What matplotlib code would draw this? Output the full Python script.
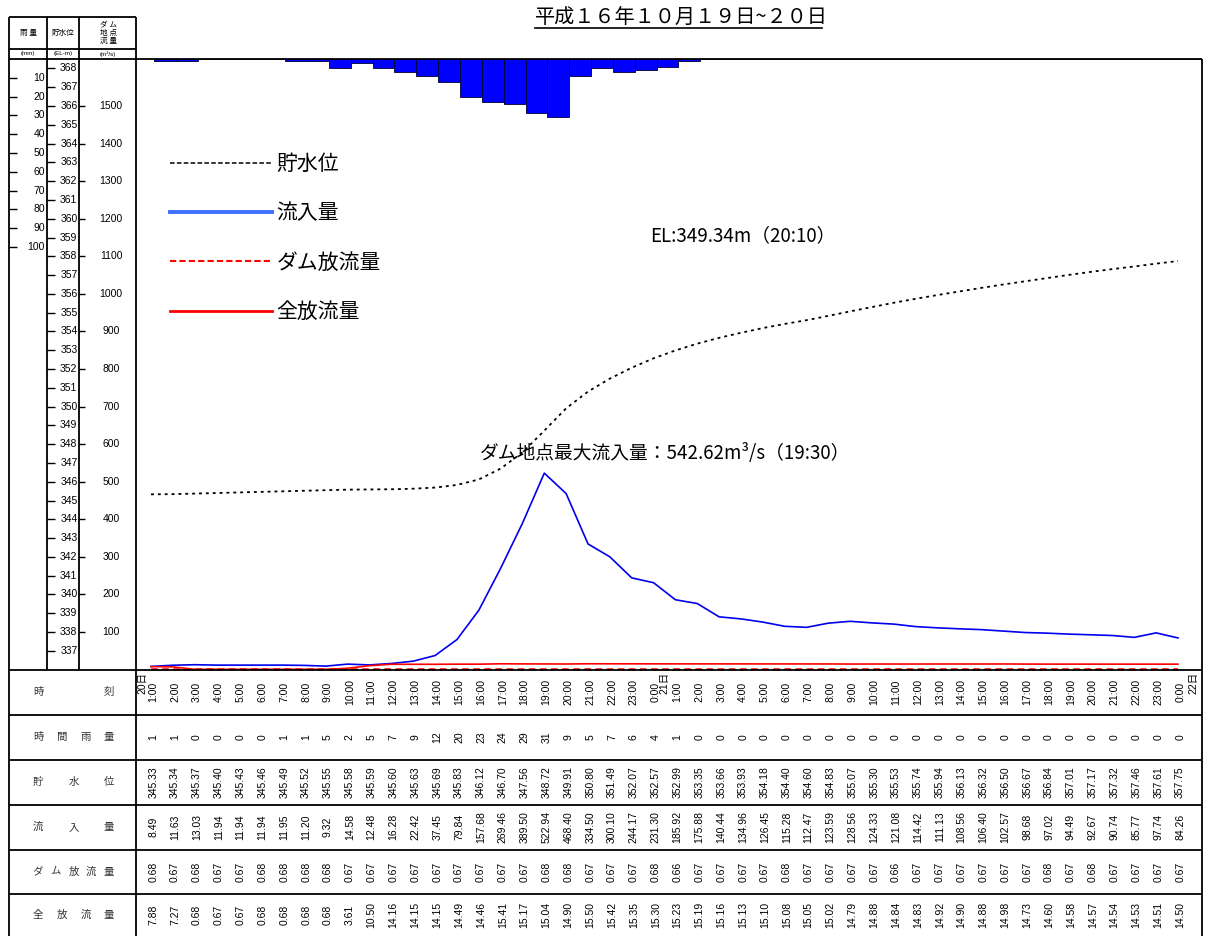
import matplotlib
matplotlib.use('Agg')
import matplotlib.pyplot as plt
import numpy as np
from matplotlib.lines import Line2D
from matplotlib.transforms import blended_transform_factory as blend

plt.rcParams['font.family'] = ['Liberation Sans', 'Noto Sans CJK JP']
JP = ['Noto Sans CJK JP', 'DejaVu Sans']

# ---- data (20日 1:00 .. 22日 0:00, hourly) ----
hours = np.arange(1, 49)
time_labels = [f'{h % 24}:00' for h in range(1, 49)]
day_labels = ['20日', '21日', '22日']

rain = [1, 1, 0, 0, 0, 0, 1, 1, 5, 2, 5, 7, 9, 12, 20, 23, 24, 29, 31, 9, 5, 7, 6, 4,
        1, 0, 0, 0, 0, 0, 0, 0, 0, 0, 0, 0, 0, 0, 0, 0, 0, 0, 0, 0, 0, 0, 0, 0]
level = [345.33, 345.34, 345.37, 345.40, 345.43, 345.46, 345.49, 345.52, 345.55, 345.58,
         345.59, 345.60, 345.63, 345.69, 345.83, 346.12, 346.70, 347.56, 348.72, 349.91,
         350.80, 351.49, 352.07, 352.57, 352.99, 353.35, 353.66, 353.93, 354.18, 354.40,
         354.60, 354.83, 355.07, 355.30, 355.53, 355.74, 355.94, 356.13, 356.32, 356.50,
         356.67, 356.84, 357.01, 357.17, 357.32, 357.46, 357.61, 357.75]
inflow = [8.49, 11.63, 13.03, 11.94, 11.94, 11.94, 11.95, 11.20, 9.32, 14.58,
          12.48, 16.28, 22.42, 37.45, 79.84, 157.68, 269.46, 389.50, 522.94, 468.40,
          334.50, 300.10, 244.17, 231.30, 185.92, 175.88, 140.44, 134.96, 126.45, 115.28,
          112.47, 123.59, 128.56, 124.33, 121.08, 114.42, 111.13, 108.56, 106.40, 102.57,
          98.68, 97.02, 94.49, 92.67, 90.74, 85.77, 97.74, 84.26]
dam_out = [0.68, 0.67, 0.68, 0.67, 0.67, 0.68, 0.68, 0.68, 0.68, 0.67,
           0.67, 0.67, 0.67, 0.67, 0.67, 0.67, 0.67, 0.67, 0.68, 0.68,
           0.67, 0.67, 0.67, 0.68, 0.66, 0.67, 0.67, 0.67, 0.67, 0.68,
           0.67, 0.67, 0.67, 0.67, 0.66, 0.67, 0.67, 0.67, 0.67, 0.67,
           0.67, 0.68, 0.67, 0.68, 0.67, 0.67, 0.67, 0.67]
total_out = [7.88, 7.27, 0.68, 0.67, 0.67, 0.68, 0.68, 0.68, 0.68, 3.61,
             10.50, 14.16, 14.15, 14.15, 14.49, 14.46, 15.41, 15.17, 15.04, 14.90,
             15.50, 15.42, 15.35, 15.30, 15.23, 15.19, 15.16, 15.13, 15.10, 15.08,
             15.05, 15.02, 14.79, 14.88, 14.84, 14.83, 14.92, 14.90, 14.88, 14.98,
             14.73, 14.60, 14.58, 14.57, 14.54, 14.53, 14.51, 14.50]

series_names = ['貯水位', '流入量', 'ダム放流量', '全放流量']
row_names = ['時刻', '時間雨量', '貯水位', '流入量', 'ダム放流量', '全放流量']
rain_ticks = list(range(10, 101, 10))
level_ticks = list(range(337, 369))
flow_ticks = list(range(100, 1501, 100))

title = '平成１６年１０月１９日~２０日'
note_el = 'EL:349.34m（20:10）'
note_max = 'ダム地点最大流入量：542.62m³/s（19:30）'

# ---- layout ----
W, H = 1208, 936
fig = plt.figure(figsize=(W / 100, H / 100), dpi=100)


def rect(l, t, r, b):
    return [l / W, 1 - b / H, (r - l) / W, (b - t) / H]


ax = fig.add_axes(rect(136, 59, 1202, 670))
ax.set_xlim(0.3135, 49.1)
ax.set_ylim(-1.06, 1625.2)
ax_lv = ax.twinx()
ax_lv.set_ylim(336 - 1.06 / 50, 336 + 1625.2 / 50)
ax_rain = ax.twinx()
ax_rain.set_ylim(325.2, 0)
for a in (ax, ax_lv, ax_rain):
    a.axis('off')

ax_rain.bar(hours + 0.14, rain, width=1.0, align='edge', color='#0000ff',
            edgecolor='#000033', linewidth=0.6)
ax_lv.plot(hours, level, color='black', ls=(0, (1.6, 2.2)), lw=1.3)
ax.plot(hours, inflow, color='#0000ee', lw=1.2)
ax.plot(hours, total_out, color='red', lw=1.2)
ax.plot(hours, dam_out, color='red', ls=(0, (3, 2)), lw=1.6, clip_on=False)

handles = [Line2D([], [], color='black', ls=(0, (3, 1.5)), lw=1.1),
           Line2D([], [], color='#3f6fff', lw=2.8),
           Line2D([], [], color='red', ls=(0, (3, 1.5)), lw=1.5),
           Line2D([], [], color='red', lw=2)]
ax.legend(handles, series_names, loc='upper left', bbox_to_anchor=(170 / W, 1 - 153 / H),
          bbox_transform=fig.transFigure, frameon=False, prop={'family': JP, 'size': 15},
          handlelength=4.9, handletextpad=0.2, labelspacing=1.31, borderpad=0, borderaxespad=0)

# left scale columns
ax_rc = fig.add_axes(rect(9, 59, 47, 670), sharey=ax_rain)
ax_lc = fig.add_axes(rect(47, 59, 79, 670), sharey=ax_lv)
ax_fc = fig.add_axes(rect(79, 59, 136, 670), sharey=ax)
for a, ticks, ln in ((ax_rc, rain_ticks, 6), (ax_lc, level_ticks, 6), (ax_fc, flow_ticks, 4)):
    a.set_xticks([])
    a.set_yticks(ticks)
    for s in a.spines.values():
        s.set_visible(False)
    a.patch.set_visible(False)
    a.tick_params(axis='y', direction='in', length=ln, width=1.0, labelleft=False)

# overlay in pixel coordinates for frame and text
ov = fig.add_axes([0, 0, 1, 1], zorder=5)
ov.set_xlim(0, W)
ov.set_ylim(H, 0)
ov.axis('off')
ov.patch.set_visible(False)

for v in rain_ticks:
    ov.text(45, v, str(v), transform=blend(ov.transData, ax_rc.transData),
            ha='right', va='center', fontsize=7.5)
for v in level_ticks:
    ov.text(77.5, v, str(v), transform=blend(ov.transData, ax_lc.transData),
            ha='right', va='center', fontsize=7.5)
for v in flow_ticks:
    ov.text(111, v, str(v), transform=blend(ov.transData, ax_fc.transData),
            ha='center', va='center', fontsize=7.5)

lk = dict(color='black', lw=1.3, solid_capstyle='butt')
for y in (17, 49):
    ov.plot([9, 136], [y, y], **lk)
for y in (59, 670, 715, 760, 805, 850, 894):
    ov.plot([9, 1202], [y, y], **lk)
for x in (9, 136):
    ov.plot([x, x], [17, 936], **lk)
for x in (47, 79):
    ov.plot([x, x], [17, 670], **lk)
ov.plot([1202, 1202], [59, 936], **lk)

ov.text(28, 33, '雨 量', fontsize=5.5, ha='center', va='center', family=JP)
ov.text(63, 33, '貯水位', fontsize=5.5, ha='center', va='center', family=JP)
ov.text(108, 33, 'ダ ム\n地 点\n流 量', fontsize=5.5, ha='center', va='center',
        family=JP, linespacing=0.95)
ov.text(28, 54, '(mm)', fontsize=4.5, ha='center', va='center')
ov.text(63, 54, '(EL-m)', fontsize=4.5, ha='center', va='center')
ov.text(108, 54, '(m³/s)', fontsize=4.5, ha='center', va='center')

ov.text(535, 18, title, fontsize=14.5, ha='left', va='center', family=JP)
ov.plot([535, 822], [28, 28], color='black', lw=1.2)
ov.text(650, 236, note_el, fontsize=13.5, ha='left', va='center', family=JP)
ov.text(480, 453, note_max, fontsize=13.5, ha='left', va='center', family=JP)

# table
tx = blend(ax.transData, ov.transData)
row_centres = [692, 737, 782, 827, 872, 915]
for name, yc in zip(row_names, row_centres):
    xs = np.linspace(38, 109, len(name))
    for ch, xx in zip(name, xs):
        ov.text(xx, yc, ch, fontsize=7.5, ha='center', va='center', family=JP, color='#333333')

for i, h in enumerate(hours):
    xh = h + 0.1
    ov.text(xh, 692, time_labels[i], transform=tx, rotation=90, ha='center', va='center', fontsize=7.5)
    ov.text(xh, 737, str(rain[i]), transform=tx, rotation=90, ha='center', va='center', fontsize=7.5)
    ov.text(xh, 782, f'{level[i]:.2f}', transform=tx, rotation=90, ha='center', va='center', fontsize=7.5)
    ov.text(xh, 827, f'{inflow[i]:.2f}', transform=tx, rotation=90, ha='center', va='center', fontsize=7.5)
    ov.text(xh, 872, f'{dam_out[i]:.2f}', transform=tx, rotation=90, ha='center', va='center', fontsize=7.5)
    ov.text(xh, 915, f'{total_out[i]:.2f}', transform=tx, rotation=90, ha='center', va='center', fontsize=7.5)

for d, xd in zip(day_labels, (0.59, 24.5, 48.7)):
    ov.text(xd, 672, d, transform=tx, rotation=90, ha='center', va='top', fontsize=7.5)

fig.savefig('out.png', dpi=100)
